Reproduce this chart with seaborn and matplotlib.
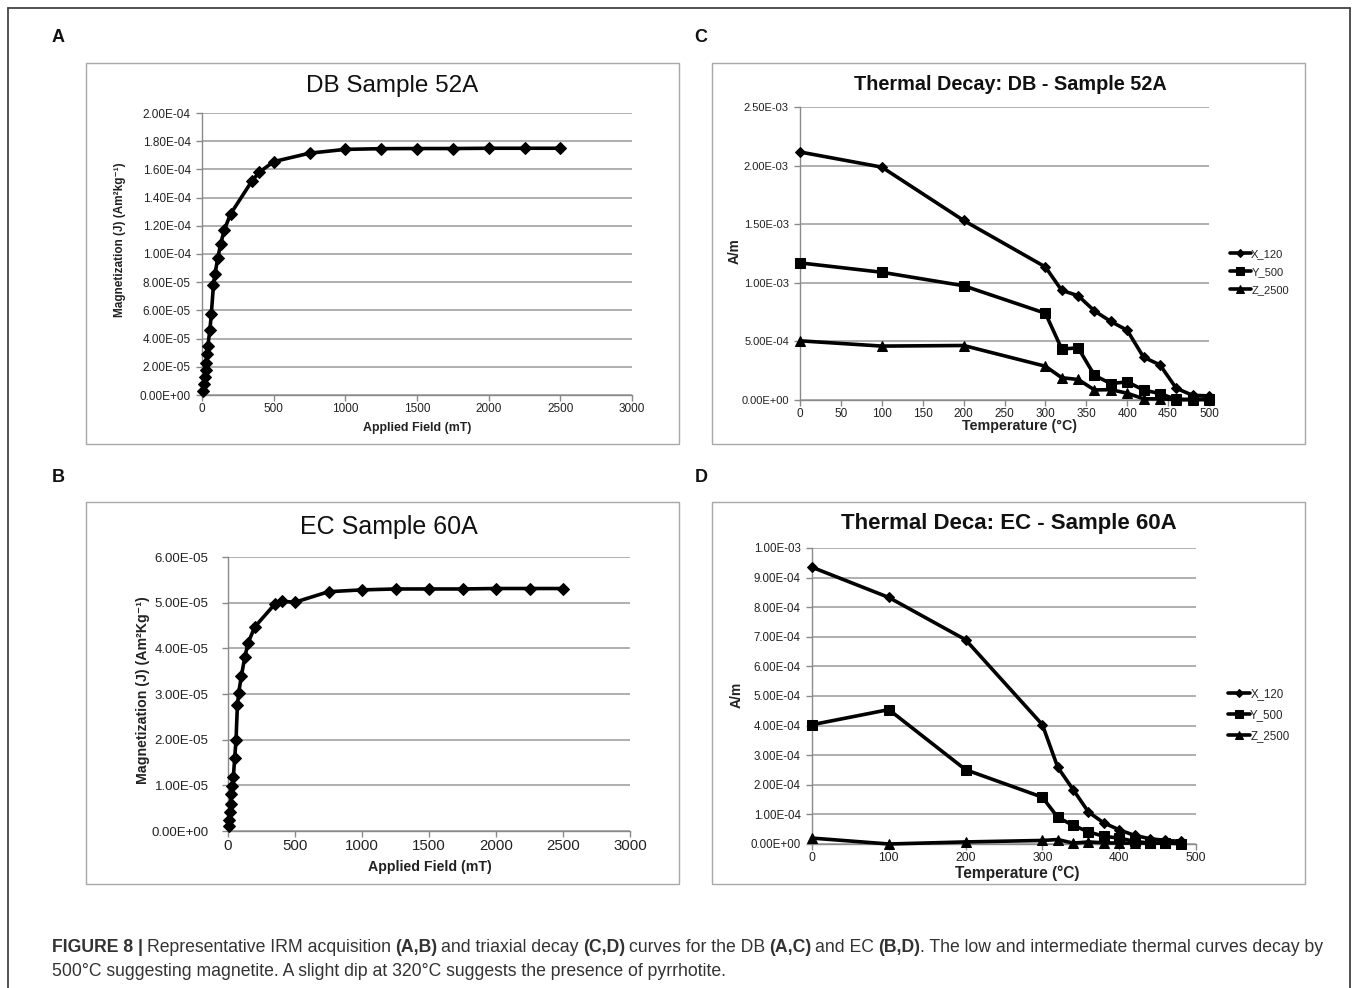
import matplotlib
matplotlib.use("Agg")
import matplotlib.pyplot as plt
from matplotlib.patches import Rectangle
from matplotlib.lines import Line2D
from matplotlib.text import Annotation
from matplotlib.ticker import FuncFormatter
import numpy as np
import pandas as pd
import seaborn as sns

# ---------------- data ----------------
# Panel A: DB Sample 52A IRM acquisition
field_A = [10, 15, 20, 25, 30, 35, 40, 55, 65, 80, 90, 110, 130, 155, 200,
           350, 400, 500, 750, 1000, 1250, 1500, 1750, 2000, 2250, 2500]
mag_A = [0.30e-5, 0.75e-5, 1.25e-5, 1.75e-5, 2.30e-5, 2.90e-5, 3.45e-5,
         4.60e-5, 5.75e-5, 7.80e-5, 8.55e-5, 9.70e-5, 10.7e-5, 11.7e-5, 12.85e-5,
         15.2e-5, 15.8e-5, 16.55e-5, 17.15e-5, 17.42e-5, 17.47e-5, 17.48e-5,
         17.48e-5, 17.50e-5, 17.50e-5, 17.50e-5]

# Panel B: EC Sample 60A IRM acquisition
field_B = [5, 10, 15, 20, 25, 30, 40, 50, 60, 70, 80, 100, 125, 150, 200,
           350, 400, 500, 750, 1000, 1250, 1500, 1750, 2000, 2250, 2500]
mag_B = [0.10e-5, 0.25e-5, 0.42e-5, 0.60e-5, 0.80e-5, 0.98e-5, 1.18e-5, 1.60e-5,
         2.00e-5, 2.75e-5, 3.03e-5, 3.40e-5, 3.80e-5, 4.12e-5, 4.47e-5,
         4.97e-5, 5.03e-5, 5.01e-5, 5.24e-5, 5.28e-5, 5.30e-5, 5.30e-5,
         5.30e-5, 5.31e-5, 5.31e-5, 5.31e-5]

# Panel C: Thermal decay DB sample 52A
temp_C = [0, 100, 200, 300, 320, 340, 360, 380, 400, 420, 440, 460, 480, 500]
x120_C = [2.116e-3, 1.987e-3, 1.532e-3, 1.135e-3, 0.935e-3, 0.890e-3, 0.760e-3,
          0.670e-3, 0.595e-3, 0.365e-3, 0.300e-3, 0.100e-3, 0.040e-3, 0.035e-3]
y500_C = [1.170e-3, 1.090e-3, 0.975e-3, 0.740e-3, 0.435e-3, 0.445e-3, 0.210e-3,
          0.140e-3, 0.155e-3, 0.085e-3, 0.055e-3, 0.005e-3, 0.005e-3, 0.010e-3]
z2500_C = [0.505e-3, 0.460e-3, 0.465e-3, 0.288e-3, 0.190e-3, 0.175e-3, 0.086e-3,
           0.088e-3, 0.058e-3, 0.010e-3, 0.010e-3, 0.003e-3, 0.003e-3, 0.003e-3]

# Panel D: Thermal decay EC sample 60A
temp_D = [0, 100, 200, 300, 320, 340, 360, 380, 400, 420, 440, 460, 480]
x120_D = [0.935e-3, 0.833e-3, 0.690e-3, 0.403e-3, 0.259e-3, 0.184e-3, 0.108e-3,
          0.071e-3, 0.048e-3, 0.029e-3, 0.018e-3, 0.012e-3, 0.009e-3]
y500_D = [0.403e-3, 0.454e-3, 0.251e-3, 0.158e-3, 0.090e-3, 0.063e-3, 0.041e-3,
          0.026e-3, 0.020e-3, 0.009e-3, 0.003e-3, 0.003e-3, 0.001e-3]
z2500_D = [0.020e-3, 0.000e-3, 0.007e-3, 0.012e-3, 0.015e-3, 0.003e-3, 0.007e-3,
           0.004e-3, 0.003e-3, 0.003e-3, 0.003e-3, 0.003e-3, 0.003e-3]

series_names = ["X_120", "Y_500", "Z_2500"]
series_markers = ["D", "s", "^"]

# ---------------- figure ----------------
sns.set_theme(style="white")
plt.rcParams["font.family"] = ["Liberation Sans", "DejaVu Sans"]

W, H = 1358, 988
fig = plt.figure(figsize=(W / 100, H / 100), dpi=100)
fig.patch.set_facecolor("white")


def fx(x):
    return x / W


def fy(y):
    return 1 - y / H


def add_axes(x0, x1, ytop, ybot):
    return fig.add_axes([fx(x0), fy(ybot), (x1 - x0) / W, (ybot - ytop) / H])


# outer border (open at bottom)
fig.add_artist(Line2D([fx(8), fx(8)], [fy(8), 0], color="#444444", lw=1.3))
fig.add_artist(Line2D([fx(8), fx(1350)], [fy(8), fy(8)], color="#444444", lw=1.3))
fig.add_artist(Line2D([fx(1350), fx(1350)], [fy(8), 0], color="#444444", lw=1.3))

# panel boxes
for (bx0, by0, bx1, by1) in [(86, 63, 679, 444), (712, 63, 1305, 444),
                             (86, 502, 679, 884), (712, 502, 1305, 884)]:
    fig.add_artist(Rectangle((fx(bx0), fy(by1)), (bx1 - bx0) / W, (by1 - by0) / H,
                             fill=False, edgecolor="#a8a8a8", lw=1.0))

# panel letters
for lab, (px, py) in {"A": (58, 37), "C": (701, 37), "B": (58, 477), "D": (701, 477)}.items():
    fig.text(fx(px), fy(py), lab, fontsize=13, fontweight="bold", ha="center",
             va="center", color="#111111")

sci = FuncFormatter(lambda v, p: "{:.2E}".format(v))


def style(ax, ylab_size, xlab_size, ypad=2):
    ax.set_facecolor("white")
    for s in ["top", "right"]:
        ax.spines[s].set_visible(False)
    for s in ["left", "bottom"]:
        ax.spines[s].set_color("#8a8a8a")
        ax.spines[s].set_linewidth(1.0)
    ax.yaxis.grid(True, color="#9a9a9a", lw=1.1)
    ax.xaxis.grid(False)
    ax.tick_params(axis="both", which="both", direction="out", length=4,
                   width=1, color="#8a8a8a", bottom=True, left=True,
                   labelcolor="#222222", pad=2)
    ax.tick_params(axis="y", labelsize=ylab_size, pad=ypad)
    ax.tick_params(axis="x", labelsize=xlab_size)
    ax.yaxis.set_major_formatter(sci)
    ax.set_xlabel("")
    ax.set_ylabel("")


# ---- Panel A ----
axA = add_axes(202, 632, 113, 395)
sns.lineplot(x=field_A, y=mag_A, ax=axA, color="black", lw=2.6, marker="D",
             markersize=6.5, markeredgecolor="black", clip_on=False, zorder=5)
axA.set_xlim(0, 3000)
axA.set_ylim(0, 2.0e-4)
axA.set_xticks(np.arange(0, 3001, 500))
axA.set_yticks(np.arange(0, 2.01e-4, 2e-5))
style(axA, 8.5, 8.5, ypad=4)
fig.text(fx(392), fy(86), "DB Sample 52A", fontsize=17.5, ha="center", va="center",
         color="#111111")
fig.text(fx(417), fy(428), "Applied Field (mT)", fontsize=8.9, fontweight="bold",
         ha="center", va="center", color="#222222")
fig.text(fx(120), fy(240), "Magnetization (J) (Am²kg⁻¹)", fontsize=8.5,
         fontweight="bold", rotation=90, ha="center", va="center", color="#222222")

# ---- Panel B ----
axB = add_axes(228, 630, 557, 831)
sns.lineplot(x=field_B, y=mag_B, ax=axB, color="black", lw=2.6, marker="D",
             markersize=6.5, markeredgecolor="black", clip_on=False, zorder=5)
axB.set_xlim(0, 3000)
axB.set_ylim(0, 6.0e-5)
axB.set_xticks(np.arange(0, 3001, 500))
axB.set_yticks(np.arange(0, 6.01e-5, 1e-5))
style(axB, 9.5, 10.8, ypad=10)
fig.text(fx(389), fy(527), "EC Sample 60A", fontsize=18, ha="center", va="center",
         color="#111111")
fig.text(fx(430), fy(867), "Applied Field (mT)", fontsize=10.2, fontweight="bold",
         ha="center", va="center", color="#222222")
fig.text(fx(143), fy(690), "Magnetization (J) (Am²Kg⁻¹)", fontsize=10.2,
         fontweight="bold", rotation=90, ha="center", va="center", color="#222222")


def decay_panel(ax, temps, xs, ys, zs):
    for vals, name, mk in zip([xs, ys, zs], series_names, series_markers):
        ms = 5.5 if mk == "D" else (7 if mk == "s" else 6.5)
        sns.lineplot(x=temps, y=vals, ax=ax, color="black", lw=2.6, marker=mk,
                     markersize=ms, markeredgecolor="black", clip_on=False,
                     zorder=5, label=name)


# ---- Panel C ----
axC = add_axes(800, 1209, 107, 400)
decay_panel(axC, temp_C, x120_C, y500_C, z2500_C)
axC.set_xlim(0, 500)
axC.set_ylim(0, 2.5e-3)
axC.set_xticks(np.arange(0, 501, 50))
axC.set_yticks(np.arange(0, 2.51e-3, 5e-4))
style(axC, 8, 8.5, ypad=4)
hC, lC = axC.get_legend_handles_labels()
axC.legend(hC, lC, loc="center left", bbox_to_anchor=(fx(1224), fy(272)),
           bbox_transform=fig.transFigure, frameon=False, fontsize=8,
           handlelength=1.9, handletextpad=0.05, labelspacing=0.75,
           markerscale=0.8, borderpad=0)
fig.text(fx(1010), fy(84), "Thermal Decay: DB - Sample 52A", fontsize=14.3,
         fontweight="bold", ha="center", va="center", color="#111111")
fig.text(fx(1019), fy(426), "Temperature (°C)", fontsize=10.3, fontweight="bold",
         ha="center", va="center", color="#222222")
fig.text(fx(735), fy(251), "A/m", fontsize=9.8, fontweight="bold", rotation=90,
         ha="center", va="center", color="#222222")

# ---- Panel D ----
axD = add_axes(812, 1196, 548, 844)
decay_panel(axD, temp_D, x120_D, y500_D, z2500_D)
axD.set_xlim(0, 500)
axD.set_ylim(0, 1.0e-3)
axD.set_xticks(np.arange(0, 501, 100))
axD.set_yticks(np.arange(0, 1.01e-3, 1e-4))
style(axD, 8.3, 8.8, ypad=4)
hD, lD = axD.get_legend_handles_labels()
axD.legend(hD, lD, loc="center left", bbox_to_anchor=(fx(1222), fy(715)),
           bbox_transform=fig.transFigure, frameon=False, fontsize=8.3,
           handlelength=1.9, handletextpad=0.05, labelspacing=0.8,
           markerscale=0.8, borderpad=0)
fig.text(fx(1009), fy(524), "Thermal Deca: EC - Sample 60A", fontsize=16,
         fontweight="bold", ha="center", va="center", color="#111111")
fig.text(fx(1017), fy(873), "Temperature (°C)", fontsize=11.2, fontweight="bold",
         ha="center", va="center", color="#222222")
fig.text(fx(737), fy(695), "A/m", fontsize=10, fontweight="bold", rotation=90,
         ha="center", va="center", color="#222222")

# ---------------- caption ----------------
cap_size = 12.7
cap_color = "#333333"
line1 = [("FIGURE 8 |", True, 0), ("Representative IRM acquisition", False, 4),
         ("(A,B)", True, 4), ("and triaxial decay", False, 4), ("(C,D)", True, 4),
         ("curves for the DB", False, 4), ("(A,C)", True, 4), ("and EC", False, 4),
         ("(B,D)", True, 4), (". The low and intermediate thermal curves decay by", False, 0)]
prev = None
for txt, bold, gap in line1:
    if prev is None:
        prev = fig.text(fx(52), fy(956), txt, fontsize=cap_size,
                        fontweight="bold" if bold else "normal", ha="left",
                        va="bottom", color=cap_color)
    else:
        ann = Annotation(txt, xy=(1, 0), xycoords=prev, xytext=(gap, 0),
                         textcoords="offset pixels", fontsize=cap_size,
                         fontweight="bold" if bold else "normal", ha="left",
                         va="bottom", color=cap_color)
        fig.add_artist(ann)
        prev = ann
fig.text(fx(52), fy(980), "500°C suggesting magnetite. A slight dip at 320°C suggests the presence of pyrrhotite.",
         fontsize=cap_size, ha="left", va="bottom", color=cap_color)

fig.savefig("out.png", dpi=100, facecolor="white")
